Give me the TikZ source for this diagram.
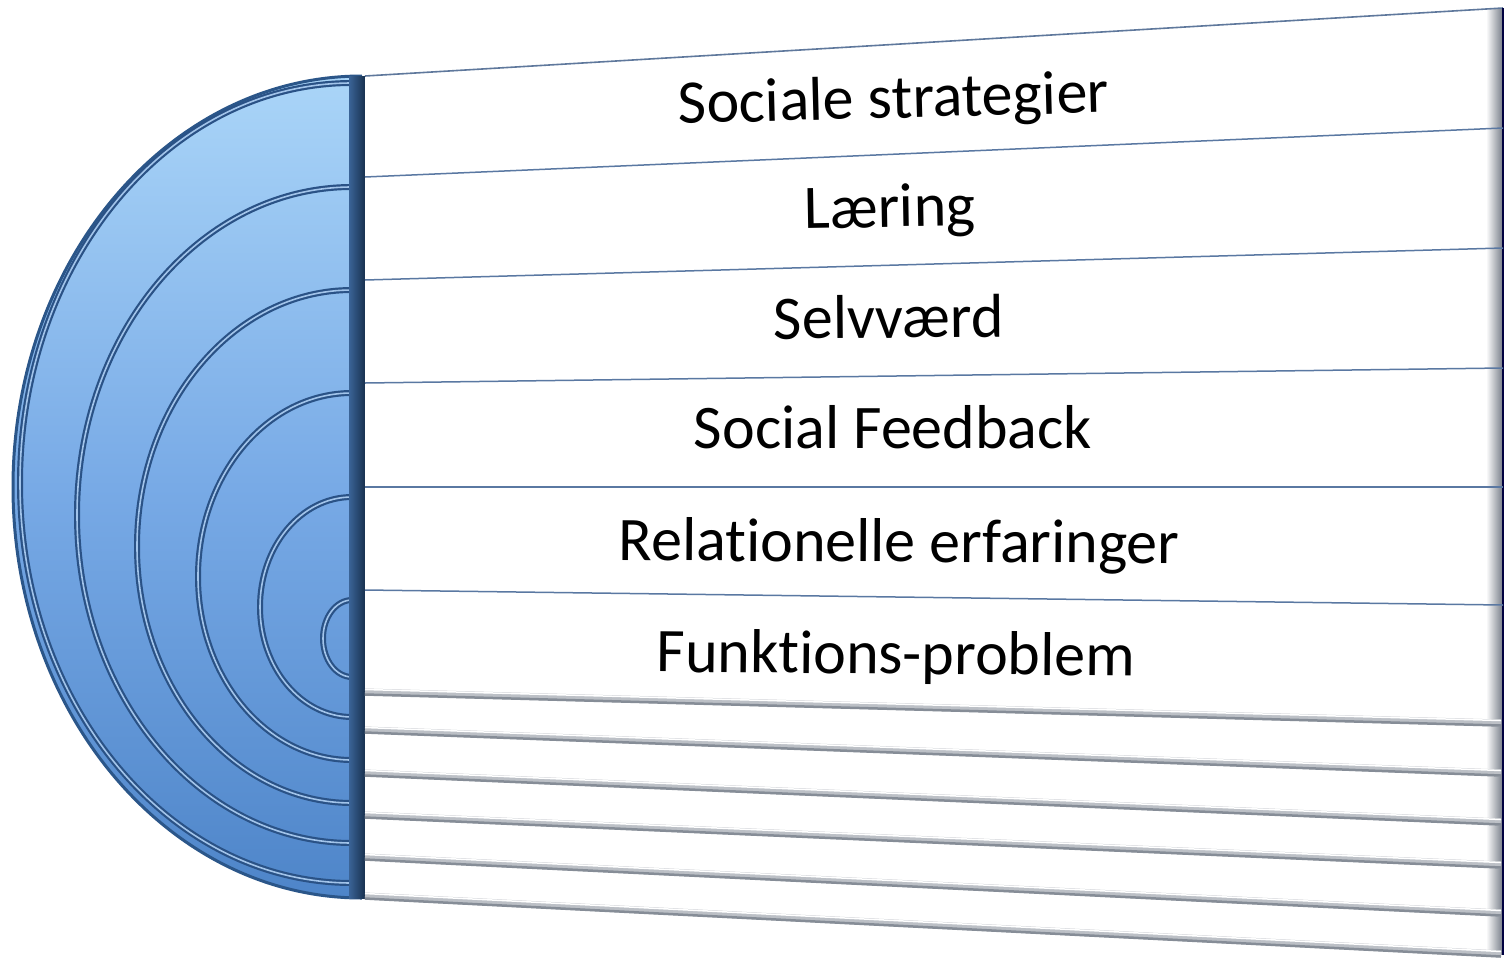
\documentclass[tikz,border=0pt]{standalone}
\usepackage{fontspec}
\setmainfont[Ligatures=NoCommon]{Carlito}
\definecolor{discTop}{HTML}{AAD5F8}
\definecolor{discMid}{HTML}{78AAE6}
\definecolor{discBot}{HTML}{4E85C9}
\definecolor{discEdge}{HTML}{2B5689}
\definecolor{grooveDark}{HTML}{2A5286}
\definecolor{grooveLight}{HTML}{A2C4EA}
\definecolor{rowLine}{HTML}{5A78A2}
\definecolor{panelEdge}{HTML}{5F789C}
\definecolor{greyBand}{HTML}{BCC0C6}
\definecolor{greyDark}{HTML}{868D97}
\definecolor{bevelGrey}{HTML}{747B86}
\definecolor{stripDark}{HTML}{18314F}
\definecolor{stripLight}{HTML}{3A6396}
\tikzset{
  groovedark/.style={draw=grooveDark, line width=6pt},
  groovelight/.style={draw=grooveLight, line width=1.6pt},
  rowline/.style={draw=rowLine, line width=1.5pt},
  greyband/.style={draw=greyBand, line width=7pt},
  greydark/.style={draw=greyDark, line width=2.5pt},
  greylight/.style={draw=white, line width=1.5pt},
  label/.style={anchor=base, inner sep=0pt, font=\fontsize{62}{70}\selectfont, text=black}
}
\begin{document}
\begin{tikzpicture}[x=1pt,y=-1pt]
\useasboundingbox (0,0) rectangle (1509,964);
\fill[white] (0,0) rectangle (1509,964);

% half disc
\shade[top color=discTop, bottom color=discBot, middle color=discMid]
  (362,76) arc[start angle=90, end angle=270, x radius=349pt, y radius=411pt] -- cycle;
\draw[discEdge, line width=3pt]
  (362,76) arc[start angle=90, end angle=270, x radius=349pt, y radius=411pt];

% grooves in disc
\foreach \t/\rx/\ry in {83/332/400, 187/275/328, 290/215/256.5, 393/154/183.5, 497/92/110, 600/29/38.5}{
  \draw[groovedark] (352,\t) arc[start angle=90, end angle=270, x radius=\rx pt, y radius=\ry pt];
  \draw[groovelight] (352,\t) arc[start angle=90, end angle=270, x radius=\rx pt, y radius=\ry pt];
}

% dark strip
\shade[left color=stripLight, right color=stripDark] (349,76) rectangle (365,898);

% panel
\fill[white] (365,76) -- (1503,8) -- (1503,955) -- (365,898) -- cycle;
\shade[left color=white, right color=bevelGrey] (1486,9) -- (1503,8) -- (1503,955) -- (1486,954) -- cycle;
\draw[panelEdge, line width=1.6pt] (365,76) -- (1503,8);
\draw[draw=black!75!blue, line width=1.8pt] (1503,8) -- (1503,955);

% row lines
\foreach \l/\r in {177/128, 280/248, 383/368, 487/487, 590/605}{
  \draw[rowline] (365,\l) -- (1503,\r);
}

% grey grooves
\foreach \l/\r in {692/723, 730/773, 773/822, 815/865, 857/913, 896/954}{
  \draw[greyband] (365,\l) -- (1501,\r);
  \draw[greydark] (365,\l+2.5) -- (1501,\r+2.5);
  \draw[greylight] (365,\l-2.5) -- (1501,\r-2.5);
}

% labels
\node[label, rotate=1.5] (t1) at (894,118) {Sociale strategier};
\node[label, rotate=1] (t2) at (890,227) {Læring};
\node[label, rotate=0.5] (t3) at (889,338) {Selvværd};
\node[label] (t4) at (893,448) {Social Feedback};
\node[label, rotate=-0.3] (t5) at (899,562) {Relationelle erfaringer};
\node[label, rotate=-0.5] (t6) at (896,674) {Funktions-problem};
\end{tikzpicture}
\end{document}
